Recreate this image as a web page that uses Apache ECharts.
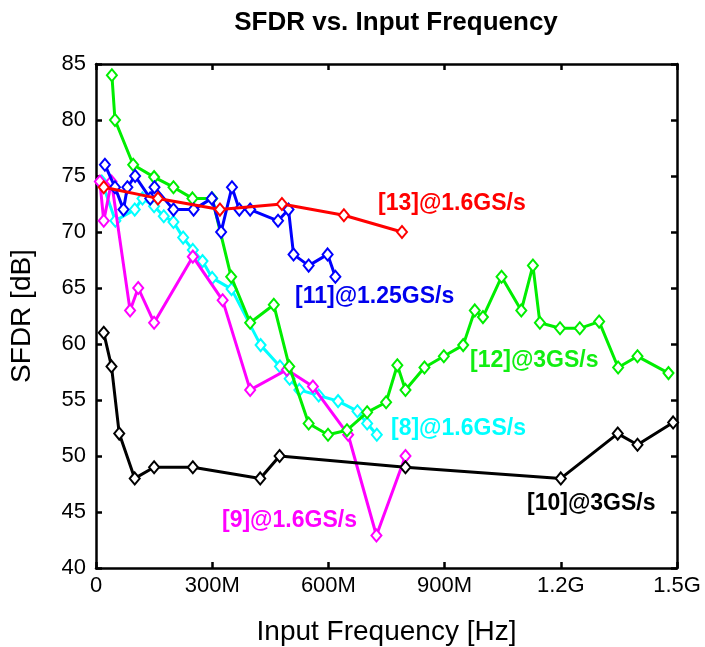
<!DOCTYPE html>
<html><head><meta charset="utf-8">
<script src="https://cdn.jsdelivr.net/npm/echarts@6/dist/echarts.min.js"></script>
<style>html,body{margin:0;padding:0;background:#fff}#c{width:705px;height:647px}</style>
</head><body><div id="c"></div>
<script>
// Frequencies in MHz, SFDR in dB
const freq8 = [15, 50, 100, 120, 150, 175, 200, 225, 250, 275, 300, 350, 425, 475, 500, 525, 575, 625, 675, 700, 725];
const sfdr8 = [74.5, 71, 72, 73, 72.3, 71.4, 70.9, 69.5, 68.4, 67.4, 65.9, 64.9, 59.9, 58, 56.9, 55.9, 55.4, 54.9, 54, 52.9, 51.9];

const freq9 = [10, 20, 40, 88, 109, 150, 250, 327, 398, 493, 560, 651, 724, 799];
const sfdr9 = [74.5, 71, 74.5, 63, 65, 61.9, 67.8, 63.9, 55.9, 57.7, 56.2, 51.9, 42.9, 50];

const freq10 = [20, 40, 60, 100, 150, 250, 424, 474, 799, 1200, 1347, 1398, 1490];
const sfdr10 = [61, 58, 52, 48, 49, 49, 48, 50, 49, 48, 52, 51, 53];

const freq11 = [23, 49, 71, 81, 101, 140, 151, 200, 252, 299, 323, 351, 370, 398, 470, 497, 510, 549, 598, 618];
const sfdr11 = [76, 74, 72, 74, 75, 73, 74, 72, 72, 73, 70, 74, 72, 72, 71, 72, 68, 67, 68, 66];

const freq12 = [41, 49, 96, 150, 200, 249, 300, 349, 398, 459, 499, 549, 599, 648, 700, 749, 778, 799, 848, 898, 948, 978, 999, 1047, 1098, 1128, 1146, 1198, 1249, 1299, 1348, 1398, 1478];
const sfdr12 = [84, 80, 76, 74.9, 74, 73, 73, 66, 61.9, 63.5, 58, 52.9, 51.9, 52.3, 53.9, 54.8, 58.1, 55.9, 57.9, 58.9, 59.9, 63, 62.4, 66, 63, 67, 61.9, 61.4, 61.4, 62, 57.9, 58.9, 57.4];

const freq13 = [20, 160, 320, 480, 640, 790];
const sfdr13 = [74, 73, 72, 72.5, 71.5, 70];

const xTickValues = [0, 300, 600, 900, 1200, 1500];
const xTickLabels = ['0', '300M', '600M', '900M', '1.2G', '1.5G'];

const seriesNames = ['[8]@1.6GS/s', '[9]@1.6GS/s', '[10]@3GS/s', '[11]@1.25GS/s', '[12]@3GS/s', '[13]@1.6GS/s'];

function pairs(xs, ys) { return xs.map((x, i) => [x, ys[i]]); }

const chart = echarts.init(document.getElementById('c'), null, {renderer: 'canvas'});
const FONT = 'Liberation Sans, Arial, sans-serif';

function mk(name, xs, ys, color, z) {
  return {
    name: name, type: 'line', data: pairs(xs, ys), z: z,
    symbol: 'diamond', symbolSize: [10, 12], showSymbol: true,
    lineStyle: {color: color, width: 3},
    itemStyle: {color: '#fff', borderColor: color, borderWidth: 2},
    emphasis: {disabled: true}, animation: false
  };
}

const colors = {c8: '#00ffff', c9: '#ff00ff', c10: '#000000', c11: '#0000ff', c12: '#00ee00', c13: '#ff0000'};

const axisCommon = {
  axisLine: {show: true, onZero: false, lineStyle: {color: '#000', width: 2.5}},
  axisTick: {show: true, inside: true, length: 6, lineStyle: {color: '#000', width: 2.5}},
  splitLine: {show: false}
};

chart.setOption({
  animation: false,
  backgroundColor: '#fff',
  title: {
    text: 'SFDR vs. Input Frequency', left: 391, top: 5, textAlign: 'center',
    textStyle: {fontFamily: FONT, fontSize: 26, fontWeight: 'bold', color: '#000'}
  },
  grid: {left: 96, right: 28, top: 64, bottom: 79, containLabel: false, outerBoundsMode: 'none'},
  xAxis: [
    Object.assign({}, axisCommon, {
      type: 'value', min: 0, max: 1500, interval: 300, position: 'bottom',
      name: 'Input Frequency [Hz]', nameLocation: 'middle', nameGap: 50,
      nameTextStyle: {fontFamily: FONT, fontSize: 28, color: '#000'},
      axisLabel: {fontFamily: FONT, fontSize: 22, color: '#000', margin: 7,
        formatter: v => { const i = xTickValues.indexOf(v); return i >= 0 ? xTickLabels[i] : ''; }}
    }),
    Object.assign({}, axisCommon, {
      type: 'value', min: 0, max: 1500, interval: 300, position: 'top',
      axisLabel: {show: false}
    })
  ],
  yAxis: [
    Object.assign({}, axisCommon, {
      type: 'value', min: 40, max: 85, interval: 5, position: 'left',
      name: 'SFDR [dB]', nameLocation: 'middle', nameGap: 60, nameRotate: 90,
      nameTextStyle: {fontFamily: FONT, fontSize: 28, color: '#000'},
      axisLabel: {fontFamily: FONT, fontSize: 22, color: '#000', margin: 10}
    }),
    Object.assign({}, axisCommon, {
      type: 'value', min: 40, max: 85, interval: 5, position: 'right',
      axisLabel: {show: false}
    })
  ],
  series: [
    mk(seriesNames[0], freq8, sfdr8, colors.c8, 2),
    mk(seriesNames[1], freq9, sfdr9, colors.c9, 3),
    mk(seriesNames[2], freq10, sfdr10, colors.c10, 4),
    mk(seriesNames[4], freq12, sfdr12, colors.c12, 5),
    mk(seriesNames[3], freq11, sfdr11, colors.c11, 6),
    mk(seriesNames[5], freq13, sfdr13, colors.c13, 7)
  ],
  graphic: [
    {type: 'text', left: 378, top: 192, style: {text: seriesNames[5], fill: colors.c13, font: 'bold 23px ' + FONT}},
    {type: 'text', left: 295, top: 285, style: {text: seriesNames[3], fill: '#0000ee', font: 'bold 23px ' + FONT}},
    {type: 'text', left: 470, top: 349, style: {text: seriesNames[4], fill: '#11ee11', font: 'bold 23px ' + FONT}},
    {type: 'text', left: 391, top: 417, style: {text: seriesNames[0], fill: colors.c8, font: 'bold 23px ' + FONT}},
    {type: 'text', left: 222, top: 509, style: {text: seriesNames[1], fill: colors.c9, font: 'bold 23px ' + FONT}},
    {type: 'text', left: 527, top: 492, style: {text: seriesNames[2], fill: '#000', font: 'bold 23px ' + FONT}}
  ]
});
</script>
</body></html>
